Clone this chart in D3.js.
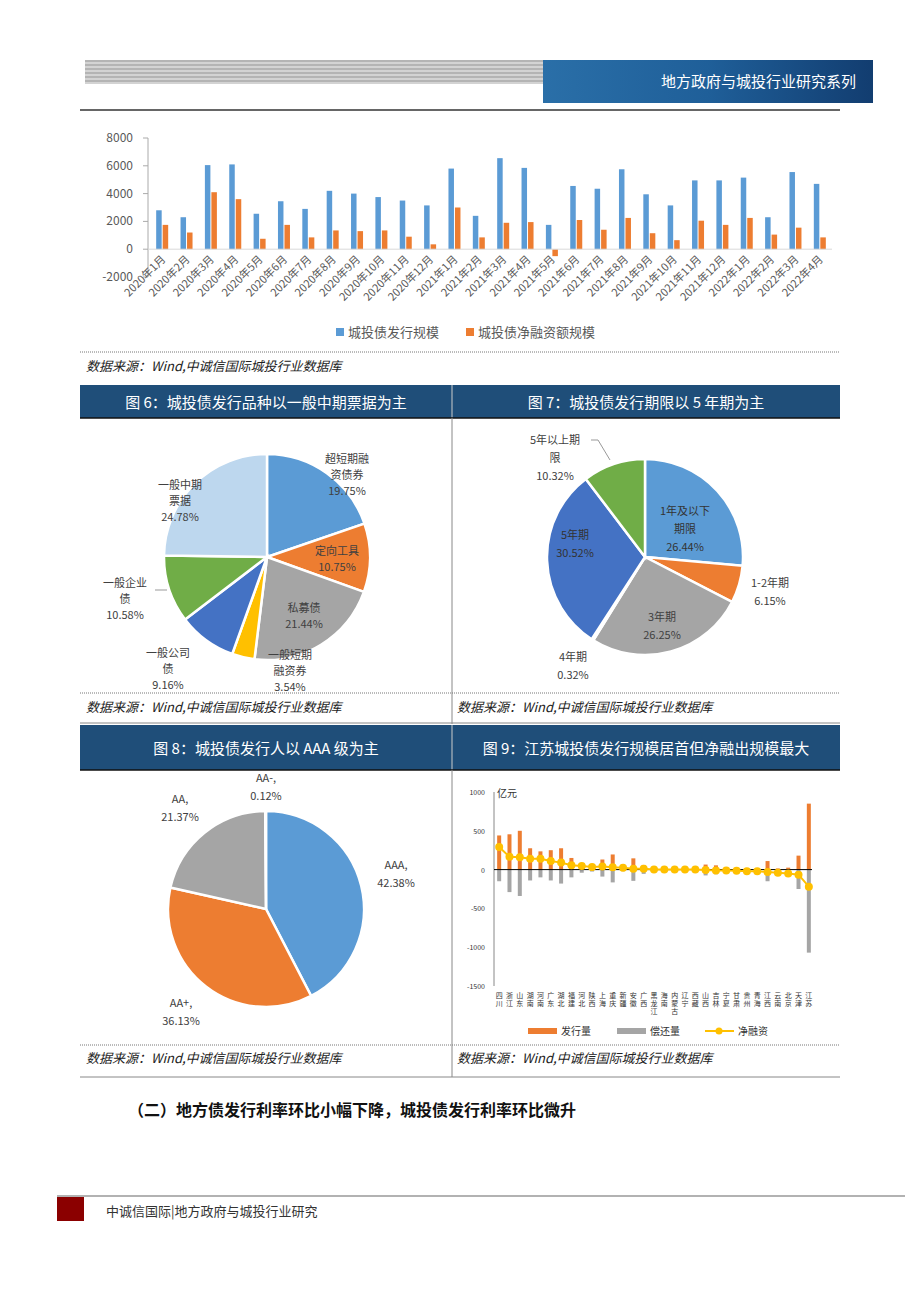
<!DOCTYPE html>
<html><head><meta charset="utf-8">
<script src="https://cdn.jsdelivr.net/npm/d3@7/dist/d3.min.js"></script>
<style>body{margin:0;background:#fff}svg{display:block}</style>
</head><body>
<svg id="s" width="920" height="1302"></svg>
<script>
const months=["2020年1月","2020年2月","2020年3月","2020年4月","2020年5月","2020年6月","2020年7月","2020年8月","2020年9月","2020年10月","2020年11月","2020年12月","2021年1月","2021年2月","2021年3月","2021年4月","2021年5月","2021年6月","2021年7月","2021年8月","2021年9月","2021年10月","2021年11月","2021年12月","2022年1月","2022年2月","2022年3月","2022年4月"];
const issueScale=[2800,2300,6050,6100,2550,3450,2900,4200,4000,3750,3500,3150,5800,2400,6550,5850,1750,4550,4350,5750,3950,3150,4950,4950,5150,2300,5550,4700];
const netScale=[1750,1200,4100,3600,750,1750,850,1350,1300,1350,900,350,3000,850,1900,1950,-500,2100,1400,2250,1150,650,2050,1750,2250,1050,1550,850];
const topTicks=[-2000,0,2000,4000,6000,8000];

const fig6Labels=["超短期融资券","定向工具","私募债","一般短期融资券","一般公司债","一般企业债","一般中期票据"];
const fig6Values=[19.75,10.75,21.44,3.54,9.16,10.58,24.78];
const fig7Labels=["1年及以下期限","1-2年期","3年期","4年期","5年期","5年以上期限"];
const fig7Values=[26.44,6.15,26.25,0.32,30.52,10.32];
const fig8Labels=["AAA","AA+","AA","AA-"];
const fig8Values=[42.38,36.13,21.37,0.12];

const provinces=["四川","浙江","山东","湖南","河南","广东","湖北","福建","河北","陕西","上海","重庆","新疆","安徽","广西","黑龙江","海南","内蒙古","辽宁","西藏","山西","吉林","宁夏","甘肃","贵州","青海","江西","云南","北京","天津","江苏"];
const provIssue=[440,455,500,275,235,250,275,150,30,20,130,195,20,145,60,10,5,5,5,5,65,55,10,5,5,5,110,15,25,180,850];
const provRepay=[-150,-290,-340,-140,-100,-140,-180,-100,-40,-25,-90,-165,-20,-145,-55,-10,-5,-5,-5,-5,-75,-60,-15,-10,-10,-10,-150,-45,-70,-250,-1070];
const provNet=[290,165,160,140,140,110,90,55,45,35,40,30,25,10,10,0,0,0,0,0,-5,-10,-10,-15,-20,-20,-30,-40,-50,-65,-220];
const fig9Ticks=[-1500,-1000,-500,0,500,1000];

const svg=d3.select("#s");
const F="'Noto Sans CJK SC','Noto Sans',sans-serif";
const SERIF="'Noto Sans CJK SC',serif";

// header
const hg=svg.append("g");
for(let y=61;y<85;y+=2) hg.append("line").attr("x1",85).attr("x2",545).attr("y1",y).attr("y2",y).attr("stroke",y%4==1?"#6b6b6b":"#a8a8a8").attr("stroke-width",1.2);
const grad=svg.append("defs").append("linearGradient").attr("id","hb").attr("x1",0).attr("x2",1);
grad.append("stop").attr("offset",0).attr("stop-color","#2a6fa8");
grad.append("stop").attr("offset",0.5).attr("stop-color","#1f5f99");
grad.append("stop").attr("offset",1).attr("stop-color","#123d70");
hg.append("rect").attr("x",543).attr("y",60).attr("width",330).attr("height",43).attr("fill","url(#hb)");
hg.append("text").attr("x",856).attr("y",87).attr("text-anchor","end").attr("fill","#fff").attr("font-family",F).attr("font-size",15).text("地方政府与城投行业研究系列");
hg.append("line").attr("x1",80).attr("x2",840).attr("y1",110).attr("y2",110).attr("stroke","#333").attr("stroke-width",1.5);

// top chart
{
const x=d3.scaleBand().domain(months).range([150,832]);
const y=d3.scaleLinear().domain([-2000,8000]).range([277,138]);
const g=svg.append("g").attr("font-family",F);
g.append("line").attr("x1",148).attr("x2",148).attr("y1",138).attr("y2",277).attr("stroke","#aaa");
topTicks.forEach(t=>{g.append("line").attr("x1",143).attr("x2",148).attr("y1",y(t)).attr("y2",y(t)).attr("stroke","#aaa");
g.append("text").attr("x",133).attr("y",y(t)+4).attr("text-anchor","end").attr("font-size",12).attr("fill","#595959").text(t);});
const bw=5.5;
g.selectAll(".b").data(months).join("rect").attr("x",d=>x(d)+x.bandwidth()/2-bw-0.5).attr("width",bw)
 .attr("y",(d,i)=>y(issueScale[i])).attr("height",(d,i)=>y(0)-y(issueScale[i])).attr("fill","#5b9bd5");
g.selectAll(".o").data(months).join("rect").attr("x",d=>x(d)+x.bandwidth()/2+0.5).attr("width",bw)
 .attr("y",(d,i)=>y(Math.max(0,netScale[i]))).attr("height",(d,i)=>Math.abs(y(0)-y(netScale[i]))).attr("fill","#ed7d31");
g.append("line").attr("x1",148).attr("x2",832).attr("y1",y(0)).attr("y2",y(0)).attr("stroke","#d9d9d9");
months.forEach(m=>{const cx=x(m)+x.bandwidth()/2+4;
g.append("text").attr("transform",`translate(${cx},${260}) rotate(-45)`).attr("text-anchor","end").attr("font-size",11).attr("fill","#595959").text(m);});
g.append("rect").attr("x",336).attr("y",328).attr("width",8).attr("height",8).attr("fill","#5b9bd5");
g.append("text").attr("x",348).attr("y",337).attr("font-size",13).attr("fill","#595959").text("城投债发行规模");
g.append("rect").attr("x",466).attr("y",328).attr("width",8).attr("height",8).attr("fill","#ed7d31");
g.append("text").attr("x",478).attr("y",337).attr("font-size",13).attr("fill","#595959").text("城投债净融资额规模");
}

// frame & titles
function dotted(x1,x2,y){svg.append("line").attr("x1",x1).attr("x2",x2).attr("y1",y).attr("y2",y).attr("stroke","#777").attr("stroke-dasharray","1,1");}
function source(x,y){svg.append("text").attr("x",x).attr("y",y).attr("font-family",SERIF).attr("font-style","italic").attr("font-size",13).attr("fill","#222").text("数据来源：Wind,中诚信国际城投行业数据库");}
dotted(80,840,352); source(86,371);
function titleBar(y,h,t1,t2){
 svg.append("rect").attr("x",80).attr("y",y).attr("width",760).attr("height",h).attr("fill","#1f4e79");
 svg.append("line").attr("x1",452).attr("x2",452).attr("y1",y).attr("y2",y+h).attr("stroke","#ccc");
 svg.append("line").attr("x1",80).attr("x2",840).attr("y1",y+h).attr("y2",y+h).attr("stroke","#111").attr("stroke-width",1.5);
 svg.append("text").attr("x",266).attr("y",y+h/2+6).attr("text-anchor","middle").attr("fill","#fff").attr("font-family",SERIF).attr("font-size",15).text(t1);
 svg.append("text").attr("x",646).attr("y",y+h/2+6).attr("text-anchor","middle").attr("fill","#fff").attr("font-family",SERIF).attr("font-size",15).text(t2);
}
titleBar(385,33,"图 6：城投债发行品种以一般中期票据为主","图 7：城投债发行期限以 5 年期为主");
svg.append("line").attr("x1",452).attr("x2",452).attr("y1",418).attr("y2",724).attr("stroke","#888");
dotted(80,840,693); source(86,712); source(457,712);
svg.append("line").attr("x1",80).attr("x2",840).attr("y1",723).attr("y2",723).attr("stroke","#888");
titleBar(725,45,"图 8：城投债发行人以 AAA 级为主","图 9：江苏城投债发行规模居首但净融出规模最大");
svg.append("line").attr("x1",452).attr("x2",452).attr("y1",770).attr("y2",1077).attr("stroke","#888");
dotted(80,840,1045); source(86,1063); source(457,1063);
svg.append("line").attr("x1",80).attr("x2",840).attr("y1",1077).attr("y2",1077).attr("stroke","#888");

// pies
function pie(cx,cy,r,vals,cols,labels){
 const g=svg.append("g").attr("transform",`translate(${cx},${cy})`).attr("font-family",F);
 const arcs=d3.pie().sort(null)(vals);
 const arc=d3.arc().innerRadius(0).outerRadius(r);
 g.selectAll("path").data(arcs).join("path").attr("d",arc).attr("fill",(d,i)=>cols[i]).attr("stroke","#fff").attr("stroke-width",2.5);
 labels.forEach(L=>{const t=g.append("text").attr("text-anchor","middle").attr("font-size",11).attr("fill",L.c||"#404040");
  L.lines.forEach((s,k)=>t.append("tspan").attr("x",L.x).attr("y",L.y+k*L.lh).text(s));
  if(L.line) g.append("polyline").attr("points",L.line.map(p=>p.join(",")).join(" ")).attr("fill","none").attr("stroke","#999");});
}
const c6=["#5b9bd5","#ed7d31","#a5a5a5","#ffc000","#4472c4","#70ad47","#bdd7ee"];
pie(267,557,103,fig6Values,c6,[
 {x:80,y:-94,lh:16,lines:["超短期融","资债券","19.75%"]},
 {x:70,y:-2,lh:16,lines:["定向工具","10.75%"]},
 {x:37,y:55,lh:16,lines:["私募债","21.44%"]},
 {x:23,y:102,lh:16,lines:["一般短期","融资券","3.54%"]},
 {x:-87,y:-68,lh:16,lines:["一般中期","票据","24.78%"]},
 {x:-142,y:30,lh:16,lines:["一般企业","债","10.58%"],line:[[-112,33],[-100,33]]},
 {x:-99,y:100,lh:16,lines:["一般公司","债","9.16%"]}]);
const c7=["#5b9bd5","#ed7d31","#a5a5a5","#ffc000","#4472c4","#70ad47"];
pie(645,557,98,fig7Values,c7,[
 {x:40,y:-42,lh:18,c:"#333",lines:["1年及以下","期限","26.44%"]},
 {x:125,y:30,lh:18,lines:["1-2年期","6.15%"]},
 {x:17,y:64,lh:18,lines:["3年期","26.25%"]},
 {x:-72,y:104,lh:18,lines:["4年期","0.32%"]},
 {x:-70,y:-18,lh:18,c:"#333",lines:["5年期","30.52%"]},
 {x:-90,y:-113,lh:18,lines:["5年以上期","限","10.32%"],line:[[-54,-117],[-47,-117],[-35,-97]]}]);
const c8=["#5b9bd5","#ed7d31","#a5a5a5","#ffc000"];
pie(266,909,98,fig8Values,c8,[
 {x:130,y:-40,lh:18,lines:["AAA,","42.38%"]},
 {x:-85,y:98,lh:18,lines:["AA+,","36.13%"]},
 {x:-86,y:-106,lh:18,lines:["AA,","21.37%"]},
 {x:0,y:-127,lh:18,lines:["AA-,","0.12%"]}]);

// fig 9
{
const x=d3.scaleBand().domain(provinces).range([494,814]);
const y=d3.scaleLinear().domain([-1500,1000]).range([986,792]);
const g=svg.append("g").attr("font-family",F);
g.append("line").attr("x1",494).attr("x2",494).attr("y1",792).attr("y2",986).attr("stroke","#888");
fig9Ticks.forEach(t=>{g.append("text").attr("x",485).attr("y",y(t)+3).attr("text-anchor","end").attr("font-size",7).attr("fill","#333").text(t);});
g.append("text").attr("x",497).attr("y",797).attr("font-size",10).attr("fill","#333").text("亿元");
const bw=4;
g.selectAll(".i").data(provinces).join("rect").attr("x",d=>x(d)+x.bandwidth()/2-bw/2).attr("width",bw)
 .attr("y",(d,i)=>y(provIssue[i])).attr("height",(d,i)=>y(0)-y(provIssue[i])).attr("fill","#ed7d31");
g.selectAll(".r").data(provinces).join("rect").attr("x",d=>x(d)+x.bandwidth()/2-bw/2).attr("width",bw)
 .attr("y",y(0)).attr("height",(d,i)=>y(provRepay[i])-y(0)).attr("fill","#a5a5a5");
g.append("line").attr("x1",494).attr("x2",812).attr("y1",y(0)).attr("y2",y(0)).attr("stroke","#000");
const ln=d3.line().x((d,i)=>x(provinces[i])+x.bandwidth()/2).y(d=>y(d));
g.append("path").attr("d",ln(provNet)).attr("fill","none").attr("stroke","#ffc000").attr("stroke-width",2);
g.selectAll("circle").data(provNet).join("circle").attr("cx",(d,i)=>x(provinces[i])+x.bandwidth()/2).attr("cy",d=>y(d)).attr("r",4).attr("fill","#ffc000");
provinces.forEach(p=>{const t=g.append("text").attr("text-anchor","middle").attr("font-size",7).attr("fill","#333");
 [...p].forEach((ch,k)=>t.append("tspan").attr("x",x(p)+x.bandwidth()/2).attr("y",998+k*8).text(ch));});
g.append("rect").attr("x",528).attr("y",1028).attr("width",29).attr("height",6).attr("fill","#ed7d31");
g.append("text").attr("x",561).attr("y",1035).attr("font-size",10).attr("fill","#333").text("发行量");
g.append("rect").attr("x",617).attr("y",1028).attr("width",29).attr("height",6).attr("fill","#a5a5a5");
g.append("text").attr("x",650).attr("y",1035).attr("font-size",10).attr("fill","#333").text("偿还量");
g.append("line").attr("x1",705).attr("x2",734).attr("y1",1031).attr("y2",1031).attr("stroke","#ffc000").attr("stroke-width",2);
g.append("circle").attr("cx",719).attr("cy",1031).attr("r",3.5).attr("fill","#ffc000");
g.append("text").attr("x",738).attr("y",1035).attr("font-size",10).attr("fill","#333").text("净融资");
}

// section heading
svg.append("text").attr("x",128).attr("y",1116).attr("font-family",SERIF).attr("font-weight","bold").attr("font-size",16).attr("fill","#111").text("（二）地方债发行利率环比小幅下降，城投债发行利率环比微升");
// footer
svg.append("line").attr("x1",57).attr("x2",905).attr("y1",1196).attr("y2",1196).attr("stroke","#999").attr("stroke-width",1.5);
svg.append("rect").attr("x",57).attr("y",1197).attr("width",27).attr("height",24).attr("fill","#8b0000");
svg.append("text").attr("x",106).attr("y",1216).attr("font-family",SERIF).attr("font-size",13).attr("fill","#333").text("中诚信国际|地方政府与城投行业研究");
</script>
</body></html>
